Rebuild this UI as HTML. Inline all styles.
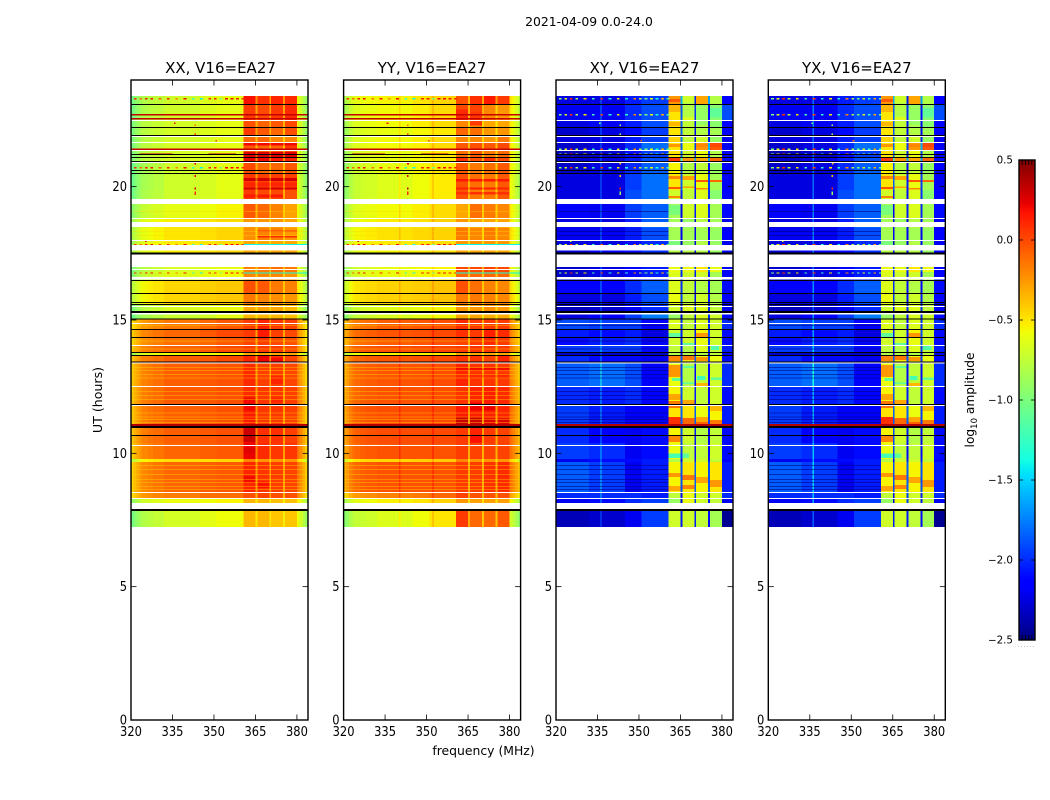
<!DOCTYPE html>
<html lang="en">
<head>
<meta charset="utf-8">
<title>2021-04-09 0.0-24.0</title>
<style>
html,body{margin:0;padding:0;background:#fff;}
svg{display:block;font-family:"DejaVu Sans","Liberation Sans",sans-serif;fill:#000;}
</style>
</head>
<body>
<svg id="chart" width="1050" height="800" viewBox="0 0 1050 800" xmlns="http://www.w3.org/2000/svg">
  <rect x="0" y="0" width="1050" height="800" fill="#fff"/>
  <text x="589" y="26" font-size="12.4" text-anchor="middle">2021-04-09 0.0-24.0</text>
  <g id="plots"></g>
  <text x="220.5" y="73" font-size="15" text-anchor="middle">XX, V16=EA27</text>
  <text x="432" y="73" font-size="15" text-anchor="middle">YY, V16=EA27</text>
  <text x="644.5" y="73" font-size="15" text-anchor="middle">XY, V16=EA27</text>
  <text x="856.8" y="73" font-size="15" text-anchor="middle">YX, V16=EA27</text>
  <text transform="translate(102,400) rotate(-90)" font-size="12.6" text-anchor="middle">UT (hours)</text>
  <text x="483.5" y="755" font-size="12.4" text-anchor="middle">frequency (MHz)</text>
  <text transform="translate(974,400) rotate(-90)" font-size="12.2" text-anchor="middle">log<tspan font-size="8.5" dy="3">10</tspan><tspan dy="-3"> amplitude</tspan></text>
  <text x="1026.5" y="647" font-size="6" fill="#888" text-anchor="middle" letter-spacing="1">......</text>
  <g id="colorbar"></g>
</svg>
<script>
// ---- categories and axis labels ----
const xTickLabels = [320, 335, 350, 365, 380];
const yTickLabels = [0, 5, 10, 15, 20];
const colorbarTickLabels = [-2.5, -2.0, -1.5, -1.0, -0.5, 0.0, 0.5];

// ---- time rows (UT hours, row edges, bottom to top) ----
const utEdges = [7.24,7.88,8.14,8.31,8.55,9.68,9.79,10.39,10.95,11.81,12.49,13.43,13.69,13.78,14.06,14.36,14.66,15.04,15.21,15.6,16.01,16.5,16.8,16.99,17.63,18.0,18.45,18.83,19.35,19.88,20.51,20.96,21.11,21.38,21.68,21.9,22.24,22.5,23.1,23.4];

// ---- frequency channels (MHz) ----
const freqEdges = [320,321,322,323,324,326,328,332,336,336.5,340,340.6,345,351,352,352.6,356,360.7,365,365.7,370,370.7,375,375.7,380,380.5,381,382,383,384];
const freqGroupEdges = [320,332,345,351,360.7,365.7,370.7,375.7,380,384];

// ---- per-channel offsets (log10 amplitude) ----
const xxChannelOffset = [-.3,-.24,-.18,-.12,-.08,-.05,-.02,0,0,0,0,0,0,0,0,0,0,0,-.2,0,-.2,0,-.2,0,0,-.03,-.1,-.2,-.3];
const yyChannelOffset = [-.25,-.2,-.12,-.08,-.04,-.02,0,0,0,0,.12,0,0,0,.1,0,0,0,-.25,0,-.25,0,-.25,0,0,-.02,-.08,-.16,-.26];
const crossChannelOffset = [0,0,0,0,0,0,0,0,.45,0,0,0,0,0,0,0,0,0,-1.35,0,-1.35,0,-1.35,0,0,0,0,0,0];

// ---- row x frequency-group levels: one row per UT row ----
const xxLevels = [
[-.72,-.68,-.62,-.58,-.35,-.35,-.4,-.4,-.58],
[-.6,-.58,-.55,-.5,-.35,-.35,-.38,-.38,-.5],
[-.62,-.6,-.58,-.55,-.35,-.35,-.38,-.38,-.52],
[-.17,-.17,-.12,-.12,-.02,.02,-.02,-.02,-.18],
[-.12,-.09,-.07,-.05,.12,.07,.04,.02,-.12],
[-.48,-.48,-.48,-.46,-.2,-.25,-.25,-.25,-.42],
[-.12,-.09,-.07,-.05,.22,.1,.06,.06,-.12],
[-.09,-.07,-.05,-.02,.2,.08,.08,.03,-.1],
[-.09,-.07,-.05,-.02,.16,.06,.06,.03,-.12],
[-.09,-.05,-.05,-.02,.1,.06,.06,.03,-.12],
[-.1,-.07,-.05,-.03,.1,.03,.04,.01,-.15],
[-.1,-.07,-.05,0,.12,.14,.07,.02,-.15],
[-.58,-.58,-.58,-.55,-.3,-.3,-.3,-.3,-.5],
[-.1,-.08,-.05,0,.05,.05,.05,0,-.18],
[-.15,-.12,-.1,-.05,.02,.04,0,-.03,-.22],
[-.12,-.1,-.05,0,.05,.07,.03,0,-.2],
[-.18,-.15,-.1,-.05,.04,.12,.05,.03,-.22],
[-.76,-.72,-.68,-.62,-.35,-.35,-.35,-.38,-.62],
[-.7,-.67,-.63,-.6,-.3,-.28,-.3,-.35,-.62],
[-.48,-.45,-.43,-.41,-.15,-.18,-.22,-.25,-.47],
[-.48,-.45,-.43,-.41,-.02,-.05,-.15,-.18,-.52],
[-.66,-.63,-.6,-.57,-.2,-.2,-.2,-.25,-.57],
[-.7,-.66,-.63,-.6,-.18,-.15,-.12,-.15,-.57],
[-.55,-.52,-.5,-.47,-.3,-.3,-.3,-.3,-.52],
[-.55,-.52,-.5,-.47,-.3,-.3,-.3,-.3,-.52],
[-.53,-.5,-.48,-.45,-.22,-.18,-.18,-.25,-.52],
[-.55,-.53,-.5,-.47,-.25,-.25,-.25,-.3,-.52],
[-.65,-.62,-.59,-.55,-.05,-.1,-.18,-.28,-.58],
[-.74,-.7,-.67,-.62,.05,0,0,-.02,-.63],
[-.76,-.7,-.67,-.62,.06,.03,.03,.03,-.63],
[-.76,-.7,-.67,-.62,0,-.1,-.1,-.05,-.63],
[-.7,-.68,-.65,-.62,.22,.2,.15,.12,-.6],
[-.7,-.68,-.65,-.62,0,-.05,-.05,.02,-.6],
[-.7,-.68,-.65,-.62,-.05,-.1,-.1,.05,-.6],
[-.7,-.68,-.65,-.62,-.1,-.1,-.2,-.2,-.6],
[-.7,-.68,-.65,-.62,.05,-.05,-.1,-.02,-.6],
[-.7,-.68,-.65,-.62,-.02,-.08,-.05,0,-.6],
[-.73,-.7,-.65,-.62,.05,0,.05,.1,-.6],
[-.73,-.7,-.65,-.62,.18,.08,.12,.1,-.6]
];
const yyLevels = [
[-.7,-.65,-.58,-.5,.05,-.1,-.1,-.05,-.68],
[-.55,-.5,-.45,-.38,-.25,-.28,-.28,-.28,-.55],
[-.58,-.54,-.5,-.44,-.25,-.28,-.28,-.28,-.55],
[-.22,-.18,-.15,-.1,.02,-.03,-.03,-.03,-.28],
[-.05,-.03,-.03,-.03,.05,.04,.08,.1,-.12],
[-.46,-.46,-.44,-.42,-.2,-.25,-.25,-.25,-.44],
[-.05,-.03,-.03,-.03,.04,.02,.02,.02,-.12],
[-.03,-.01,-.01,0,.05,.12,.05,.02,-.1],
[-.03,-.01,-.01,0,.15,.14,.13,.12,-.1],
[-.05,-.03,-.03,-.01,.07,.12,.14,.1,-.12],
[-.06,-.04,-.03,-.01,.12,.07,.07,.05,-.16],
[-.06,-.04,-.02,0,.07,.07,.02,.12,-.16],
[-.55,-.55,-.55,-.52,-.3,-.3,-.3,-.3,-.5],
[-.04,-.02,0,.02,.05,.07,.05,.05,-.14],
[-.1,-.07,-.04,-.02,.02,.05,.1,.05,-.2],
[-.07,-.04,-.02,0,.08,.05,.13,.1,-.18],
[-.12,-.07,-.04,-.02,.1,.05,.05,.05,-.2],
[-.7,-.66,-.62,-.57,-.3,-.3,-.32,-.32,-.57],
[-.66,-.63,-.6,-.55,-.25,-.25,-.22,-.25,-.57],
[-.46,-.44,-.42,-.39,-.15,-.15,-.18,-.2,-.42],
[-.46,-.44,-.42,-.39,-.02,-.12,-.18,-.2,-.47],
[-.62,-.6,-.57,-.55,-.1,-.1,-.1,-.1,-.57],
[-.65,-.6,-.57,-.55,0,0,.02,0,-.57],
[-.58,-.55,-.53,-.5,-.3,-.3,-.3,-.3,-.52],
[-.54,-.52,-.5,-.48,-.25,-.25,-.25,-.25,-.52],
[-.52,-.49,-.46,-.44,-.15,-.2,-.15,-.2,-.47],
[-.56,-.52,-.49,-.44,-.25,-.3,-.3,-.3,-.52],
[-.6,-.57,-.53,-.47,-.3,-.12,-.15,-.2,-.52],
[-.68,-.64,-.58,-.52,-.02,-.15,-.15,-.05,-.58],
[-.68,-.64,-.58,-.52,-.02,-.12,-.15,-.05,-.58],
[-.66,-.61,-.56,-.51,-.05,-.15,-.12,-.05,-.53],
[-.64,-.61,-.56,-.51,.08,-.02,.08,0,-.53],
[-.64,-.61,-.56,-.51,-.12,-.05,-.15,-.1,-.53],
[-.6,-.57,-.53,-.47,-.05,-.02,-.05,0,-.52],
[-.6,-.57,-.53,-.47,-.2,-.2,-.25,-.15,-.52],
[-.64,-.61,-.56,-.51,-.1,-.12,-.25,-.25,-.53],
[-.6,-.57,-.53,-.47,-.2,-.2,-.3,-.3,-.52],
[-.6,-.57,-.53,-.47,0,.02,-.2,-.25,-.5],
[-.57,-.55,-.5,-.45,-.02,.08,.15,.05,-.48]
];
const crossLevels = [
[-2.35,-2.3,-2.2,-1.95,-.7,-.7,-.75,-.85,-2.45],
[-2.2,-2.1,-2,-1.95,-.9,-.6,-.7,-.8,-2.2],
[-2.2,-2.1,-2,-1.95,-.9,-.6,-.7,-.75,-2.2],
[-2,-2,-2,-2.05,-.75,-.6,-.7,-.7,-2],
[-1.85,-1.95,-2.2,-2.05,-.55,-.5,-.55,-.5,-2.05],
[-2.2,-2.1,-2.1,-2.05,-.8,-.7,-.7,-.75,-2.15],
[-1.95,-2,-2.2,-2.1,-.6,-.75,-.75,-.7,-2.1],
[-2,-2.15,-2.2,-2.1,-.55,-.7,-.8,-.75,-2.1],
[-1.95,-2.05,-2.15,-2.15,-.5,-.5,-.6,-.55,-2.05],
[-2,-2.05,-2,-2.15,-.55,-.7,-.75,-.7,-2.1],
[-1.85,-1.8,-1.9,-2.15,-.6,-.8,-.75,-.7,-2],
[-2,-2.1,-2.1,-2.2,-.5,-.5,-.6,-.6,-2.1],
[-2.3,-2.3,-2.3,-2.3,-.8,-.8,-.8,-.75,-2.2],
[-1.95,-1.95,-1.95,-2.1,-.75,-.8,-.65,-.75,-2.05],
[-2.1,-2.05,-2,-2.2,-.7,-.7,-.6,-.7,-2.1],
[-2.05,-2.1,-2.05,-2.25,-.7,-.7,-.55,-.7,-2.1],
[-1.9,-1.95,-1.95,-2.15,-.65,-.75,-.65,-.7,-2],
[-2.25,-2.15,-1.95,-1.75,-.9,-.75,-.65,-.7,-2.1],
[-2.35,-2.3,-2.2,-2,-.7,-.65,-.65,-.75,-2.2],
[-2.25,-2.25,-2.05,-1.9,-.6,-.75,-.7,-.8,-2.15],
[-2.15,-2.15,-2,-1.85,-.65,-.75,-.8,-.85,-2.1],
[-2.3,-2.25,-2.15,-2.05,-.65,-.7,-.7,-.85,-2.15],
[-2.3,-2.25,-2.15,-2.05,-.6,-.6,-.5,-.6,-2.15],
[-2.3,-2.2,-2.1,-2,-.8,-.8,-.8,-.9,-2.2],
[-2.25,-2.25,-2.1,-2,-1,-.9,-.8,-.9,-2.2],
[-2.2,-2.2,-2.05,-1.9,-.85,-.85,-.85,-.9,-2.15],
[-2.25,-2.25,-2.05,-1.85,-.85,-.9,-.8,-.85,-2.2],
[-2.15,-2.2,-1.95,-1.85,-.85,-.7,-.65,-.85,-2.1],
[-2.25,-2.25,-1.9,-1.8,-.7,-.75,-.65,-.95,-2.15],
[-2.25,-2.25,-1.95,-1.8,-.5,-.7,-.6,-.85,-2.2],
[-2.3,-2.25,-2,-1.85,-.55,-.8,-.75,-.9,-2.15],
[-2.3,-2.25,-2.05,-1.9,.05,-.25,-.3,-.1,-2.1],
[-2.35,-2.3,-2.1,-1.95,-.5,-.7,-.6,-.8,-2.15],
[-2.3,-2.25,-2,-1.8,-.5,-.6,-.25,-.05,-2.2],
[-2.25,-2.25,-2.05,-1.95,-.45,-.75,-.7,-.9,-2.2],
[-2.3,-2.25,-2.1,-1.95,-.5,-.75,-.8,-.85,-2.15],
[-2.25,-2.2,-2.05,-1.9,-.5,-.75,-.8,-.95,-2.15],
[-2.2,-2.2,-2,-1.9,-.5,-.65,-.75,-.95,-1.9],
[-2.25,-2.25,-2.05,-1.95,-.25,-.7,-.3,-.8,-2.15]
];

// ---- localized patches: [utLow, utHigh, freqLow, freqHigh, level] ----
const xxPatches = [
[20.21,20.33,360.7,380,.28],[19.9,19.97,360.7,380,.28],[19.6,19.7,360.7,375,.15],[21.55,21.65,360.7,380,.2],
[21.11,21.3,360.7,380,.25],[20.0,20.15,360.7,380,.12],[18.1,18.15,365.7,380,.1],[18.3,18.36,365.7,380,.05],
[10.43,10.95,360.7,365,.3],[11.6,12.1,360.7,365,.2],[8.9,9.15,360.7,365,.2],[10,10.2,360.7,365,.25],
[14.3,14.75,365.7,370,.15],[13.4,13.65,365.7,370,.22],[13.4,13.6,370.7,375,.2],[8.7,8.95,365.7,370,.18],
[11.9,12.1,370.7,375,.12],[12.6,12.9,370.7,375,.12]
];
const yyPatches = [
[11.1,11.35,360.7,365,.3],[11.1,11.35,365.7,370,.3],[11.1,11.3,370.7,375,.25],[11.1,11.3,375.7,380,.25],
[11.6,11.9,365.7,370,.22],[11.6,11.85,370.7,375,.22],[10.4,10.65,365.7,370,.18],[13.1,13.2,360.7,380,.2],
[12.8,13.0,360.7,380,.1],[20.2,20.28,360.7,380,.15],[19.9,19.96,360.7,380,.12],[19.7,19.8,360.7,380,.08],
[22.5,22.9,360.7,365,.1],[22.3,22.8,365.7,370,.05]
];
const crossPatches = [
[23.17,23.29,360.7,365,-.05],[22.8,23.06,360.7,365,-.35],[22.28,22.43,360.7,365,-.35],[21.49,21.6,360.7,365,-.25],
[20.29,20.4,360.7,365,-.2],[19.91,19.99,360.7,365,-.05],[19.58,19.65,360.7,365,-.2],[18.94,19.31,360.7,365,-1.0],
[13.46,13.65,360.7,365,-.2],[12.86,13.31,360.7,365,-.25],[12,12.225,360.7,365,-.3],[11.7,11.96,360.7,365,-.15],
[11.1,11.36,360.7,365,.08],[10.43,10.69,360.7,365,-.2],[9.11,9.26,360.7,365,-.25],[8.59,8.78,360.7,365,-.3],
[14.36,14.51,360.7,365,-1.1],[12.71,12.82,362,365,-1.1],[9.83,9.99,360.7,365,-1.2],
[20.25,20.4,365.7,370,-.3],[19.95,20,365.7,370,-.3],[13.5,13.69,365.7,370,-.15],[11.85,12,365.7,370,-.3],
[11.1,11.32,365.7,370,-.1],[9,9.19,365.7,370,-.15],[8.66,8.81,365.7,370,-.2],[22.61,23.14,365.7,370,-.8],
[14.06,14.14,365.7,370,-1.1],[13.2,13.27,366,370,-1.1],[12.6,12.65,365.7,370,-1.1],[9.83,9.99,365.7,368,-1.1],
[23.14,23.36,370.7,375,-.3],[21.49,21.6,370.7,375,-.2],[20.18,20.25,370.7,375,-.05],[19.9,19.95,370.7,375,-.2],
[14.36,14.51,370.7,375,-.25],[13.46,13.61,370.7,375,-.25],[12.53,12.64,370.7,375,-.35],[11.18,11.36,370.7,375,-.3],
[11.1,11.18,370.7,375,-.08],[8.89,9.11,370.7,375,-.3],[12.75,12.9,371,374,-1.2],[22.31,23.06,370.7,375,-.9],
[21.49,21.64,375.7,380,0],[20.18,20.25,375.7,380,-.1],[11.59,11.81,375.7,380,-.35],[11.1,11.25,375.7,380,-.15],
[8.74,9,375.7,380,-.25],[13.87,14.03,376,379,-1.15],[12.75,12.85,376,380,-1.1],[22.6,22.95,375.7,380,-1.1]
];

// ---- flagged time spans [low UT, high UT] ----
const whiteFlagStart = [22.46,21.86,21.64,21.34,20.89,19.35,18.79,18.64,18.49,17.96,17.61,16.99,16.88,16.52,15.49,15.2,14.85,14.03,13.37,12.49,11.78,10.28,8.51,8.29,7.9];
const whiteFlagEnd = [22.5,21.9,21.68,21.38,20.93,19.54,18.83,18.68,18.64,18.0,17.81,17.45,16.91,16.61,15.53,15.27,14.89,14.06,13.41,12.53,11.81,10.31,8.55,8.32,8.14];
const blackFlagStart = [23.06,22.2,21.9,21.19,21.075,20.93,20.59,20.48,17.45,16.46,15.98,15.64,15.56,15.26,15.02,14.62,14.33,13.76,13.65,13.41,11.81,10.95,10.65,7.84];
const blackFlagEnd = [23.1,22.24,21.94,21.23,21.11,20.96,20.62,20.51,17.53,16.5,16.01,15.68,15.6,15.34,15.06,14.66,14.36,13.8,13.69,13.44,11.85,11.03,10.69,7.91];
const hotRowStart = [11.03];
const hotRowEnd = [11.1];

// ---- RFI rows ----
const rfiRowsUT = [23.33,20.73,17.85,16.79];
const coStrongRowsUT = [22.72,22.57,21.43];
const crossStrongRowsUT = [22.72,21.43,21.24];
const coStrongSegmentUT = [21.24,21.24];
const coStrongSegmentFreqLow = [323,348];
const coStrongSegmentFreqHigh = [335,358];
const coldTailRowsUT = [17.85,16.79];
const rfiFreqs = [321,323,325,327,330,333,336,339,342,345,348,350,352,354,356,358,360];
const coRfiLevels = [.1,-.1,.15,.2,-.1,.15,-.2,.2,-1.2,-1.4,.1,.15,-1,.2,.2,.15,.1];
const crossRfiLevels = [-1,-.6,.1,-.8,-.5,-1.2,0,-1.3,-.5,-1.3,-.2,-.8,-1,-.6,-1.3,-.3,-1.1];

// ---- isolated bright pixels ----
const spotUT = [22.41,22.33,21.99,21.75,20.43,19.96,19.81,19.75,20.9,17.99];
const spotFreq = [335.6,342.9,342.9,350.5,342.9,342.9,342.9,342.9,343,325];
const coSpotLevels = [.2,-.1,.1,0,.25,.3,.1,.1,.25,.25];
const crossSpotLevels = [-1,-.9,-.9,-.1,-.4,.1,-.9,-.9,-.4,-.7];

// ---- fine row stripes and band-gap channels ----
const rowStripeUT = [14.78,14.21,13.91,13.2,13.09,12.94,12.82,12.3,12.15,12.0,11.51,11.36,11.25,11.14,9.53,9.38,9.19,9.0,8.89,8.74,8.63,18.3,18.15,19.05];
const bandGapFreqs = [365,370,375];

const svgNS = 'http://www.w3.org/2000/svg';
const panelLefts = [131, 343.6, 556, 768.3];
const panelWidth = 177;
const plotTop = 80;
const plotBottom = 720;
const maxUT = 24;
const minFreq = 320;
const maxFreq = 384;
const colorMin = -2.5;
const colorMax = 0.5;
const digitWidth = 7.3;

function yScale(ut) { return plotBottom - ut * (plotBottom - plotTop) / maxUT; }
function xScale(left, f) { return left + (f - minFreq) * panelWidth / (maxFreq - minFreq); }

const jetR = [[0,0],[.35,0],[.66,1],[.89,1],[1,.5]];
const jetG = [[0,0],[.125,0],[.375,1],[.64,1],[.91,0],[1,0]];
const jetB = [[0,.5],[.11,1],[.34,1],[.65,0],[1,0]];
function channel(stops, t) {
  for (let i = 1; i < stops.length; i++) {
    if (t <= stops[i][0]) {
      const a = stops[i - 1], b = stops[i];
      return a[1] + (b[1] - a[1]) * (t - a[0]) / (b[0] - a[0]);
    }
  }
  return stops[stops.length - 1][1];
}
function jet(level) {
  const t = Math.max(0, Math.min(1, (level - colorMin) / (colorMax - colorMin)));
  return 'rgb(' + Math.round(255 * channel(jetR, t)) + ',' + Math.round(255 * channel(jetG, t)) + ',' + Math.round(255 * channel(jetB, t)) + ')';
}
function makeRect(parent, x, y, w, h, fill) {
  const r = document.createElementNS(svgNS, 'rect');
  r.setAttribute('x', x);
  r.setAttribute('y', y);
  r.setAttribute('width', w);
  r.setAttribute('height', h);
  r.setAttribute('fill', fill);
  r.setAttribute('shape-rendering', 'crispEdges');
  parent.appendChild(r);
  return r;
}
function makeLine(parent, x1, y1, x2, y2, width) {
  const l = document.createElementNS(svgNS, 'line');
  l.setAttribute('x1', x1);
  l.setAttribute('y1', y1);
  l.setAttribute('x2', x2);
  l.setAttribute('y2', y2);
  l.setAttribute('stroke', '#000');
  l.setAttribute('stroke-width', width);
  parent.appendChild(l);
  return l;
}
function makeText(parent, x, y, str, anchor) {
  const t = document.createElementNS(svgNS, 'text');
  t.setAttribute('x', x);
  t.setAttribute('y', y);
  t.setAttribute('font-size', '13');
  t.setAttribute('text-anchor', anchor);
  t.setAttribute('textLength', String(str.length * digitWidth));
  t.setAttribute('lengthAdjust', 'spacingAndGlyphs');
  t.textContent = str;
  parent.appendChild(t);
  return t;
}
function groupOf(mid) {
  for (let g = 0; g < freqGroupEdges.length - 1; g++) {
    if (mid < freqGroupEdges[g + 1]) return g;
  }
  return freqGroupEdges.length - 2;
}

function drawPanel(name, left, levels, offsets, patches, isCross) {
  const g = document.createElementNS(svgNS, 'g');
  
  
  document.getElementById('plots').appendChild(g);

  const xEnd = left + panelWidth;

  // heatmap cells
  for (let r = 0; r < levels.length; r++) {
    const yTop = yScale(utEdges[r + 1]);
    const yBot = yScale(utEdges[r]);
    for (let c = 0; c < freqEdges.length - 1; c++) {
      const xa = xScale(left, freqEdges[c]);
      const xb = xScale(left, freqEdges[c + 1]);
      const grp = groupOf((freqEdges[c] + freqEdges[c + 1]) / 2);
      const cell = makeRect(g, xa, yTop, xb - xa, yBot - yTop, jet(levels[r][grp] + offsets[c]));
      
      
    }
  }

  // localized patches
  patches.forEach(function (p) {
    const xa = xScale(left, p[2]);
    const xb = xScale(left, p[3]);
    const patch = makeRect(g, xa, yScale(p[1]), xb - xa, yScale(p[0]) - yScale(p[1]), jet(p[4]));
    
    
  });

  // lighter band-gap channels over co-pol patches
  if (!isCross) {
    bandGapFreqs.forEach(function (f) {
      const gap = makeRect(g, xScale(left, f), yScale(23.4), xScale(left, f + .7) - xScale(left, f), yScale(7.24) - yScale(23.4), 'rgba(255,215,0,.45)');
      
      
    });
  }

  // fine row stripes
  rowStripeUT.forEach(function (ut) {
    const xRight = isCross ? xScale(left, 360.7) : xEnd;
    const stripe = makeRect(g, left, yScale(ut + .03), xRight - left, 1, isCross ? 'rgba(0,0,120,.55)' : 'rgba(255,215,0,.38)');
    
    
  });

  // RFI rows
  rfiRowsUT.forEach(function (ut) {
    rfiFreqs.forEach(function (f, i) {
      const lvl = isCross ? crossRfiLevels[i] : coRfiLevels[i];
      const dot = makeRect(g, xScale(left, f), yScale(ut), xScale(left, f + 1) - xScale(left, f), 1.4, jet(lvl));
      
      
    });
  });
  if (isCross) {
    crossStrongRowsUT.forEach(function (ut) {
      rfiFreqs.forEach(function (f, i) {
        const dot = makeRect(g, xScale(left, f), yScale(ut), xScale(left, f + 1) - xScale(left, f), 1.4, jet(crossRfiLevels[i]));
        
        
      });
    });
  } else {
    coStrongRowsUT.forEach(function (ut) {
      const hot = makeRect(g, left, yScale(ut), panelWidth, 1.4, jet(.32));
      
      
    });
    coStrongSegmentUT.forEach(function (ut, i) {
      const xa = xScale(left, coStrongSegmentFreqLow[i]);
      const seg = makeRect(g, xa, yScale(ut), xScale(left, coStrongSegmentFreqHigh[i]) - xa, 1.4, jet(.32));
      
      
    });
    coldTailRowsUT.forEach(function (ut) {
      const tail = makeRect(g, xScale(left, 360.7), yScale(ut), xEnd - xScale(left, 360.7), 1.4, jet(-1.4));
      
      
    });
  }
  spotUT.forEach(function (ut, i) {
    const spot = makeRect(g, xScale(left, spotFreq[i]), yScale(ut), 1.6, 1.6, jet(isCross ? crossSpotLevels[i] : coSpotLevels[i]));
    
    
  });

  // flags
  whiteFlagStart.forEach(function (u, i) {
    const flag = makeRect(g, left, yScale(whiteFlagEnd[i]), panelWidth, yScale(u) - yScale(whiteFlagEnd[i]), '#fff');
    
    
  });
  hotRowStart.forEach(function (u, i) {
    const hotRow = makeRect(g, left, yScale(hotRowEnd[i]), panelWidth, yScale(u) - yScale(hotRowEnd[i]), jet(.36));
    
    
  });
  blackFlagStart.forEach(function (u, i) {
    const flag = makeRect(g, left, yScale(blackFlagEnd[i]), panelWidth, yScale(u) - yScale(blackFlagEnd[i]), '#000');
    
    
  });

  // ticks and labels
  xTickLabels.forEach(function (f) {
    const x = xScale(left, f);
    const b = makeLine(g, x, plotBottom, x, plotBottom - 5.5, 0.8);
    
    
    const t = makeLine(g, x, plotTop, x, plotTop + 5.5, 0.8);
    
    
    const lab = makeText(g, x, 736, String(f), 'middle');
    
    
  });
  yTickLabels.forEach(function (u) {
    const y = yScale(u);
    const a = makeLine(g, left, y, left + 5.5, y, 0.8);
    
    
    const b = makeLine(g, xEnd, y, xEnd - 5.5, y, 0.8);
    
    
    const lab = makeText(g, left - 4, y + 4.5, String(u), 'end');
    
    
  });

  // frame
  const frame = document.createElementNS(svgNS, 'rect');
  frame.setAttribute('x', left);
  frame.setAttribute('y', plotTop);
  frame.setAttribute('width', panelWidth);
  frame.setAttribute('height', plotBottom - plotTop);
  frame.setAttribute('fill', 'none');
  frame.setAttribute('stroke', '#000');
  frame.setAttribute('stroke-width', '1.4');
  
  
  g.appendChild(frame);
}

drawPanel('xx', panelLefts[0], xxLevels, xxChannelOffset, xxPatches, false);
drawPanel('yy', panelLefts[1], yyLevels, yyChannelOffset, yyPatches, false);
drawPanel('xy', panelLefts[2], crossLevels, crossChannelOffset, crossPatches, true);
drawPanel('yx', panelLefts[3], crossLevels, crossChannelOffset, crossPatches, true);

// colorbar
(function () {
  const g = document.getElementById('colorbar');
  const cbLeft = 1019, cbWidth = 16, cbTop = 160, cbBottom = 640;
  function cbY(v) { return cbBottom - (v - colorMin) * (cbBottom - cbTop) / (colorMax - colorMin); }
  for (let i = 0; i < 240; i++) {
    const v0 = colorMin + (colorMax - colorMin) * i / 240;
    const v1 = colorMin + (colorMax - colorMin) * (i + 1) / 240;
    const seg = makeRect(g, cbLeft, cbY(v1), cbWidth, cbY(v0) - cbY(v1), jet((v0 + v1) / 2));
    
    
  }
  colorbarTickLabels.forEach(function (v) {
    const y = cbY(v);
    const a = makeLine(g, cbLeft, y, cbLeft + 4, y, 0.8);
    
    
    const b = makeLine(g, cbLeft + cbWidth, y, cbLeft + cbWidth - 4, y, 0.8);
    
    
    const txt = v.toFixed(1).replace('-', '\u2212');
    const lab = document.createElementNS(svgNS, 'text');
    lab.setAttribute('x', 1013);
    lab.setAttribute('y', y + 3.5);
    lab.setAttribute('font-size', '10.3');
    lab.setAttribute('text-anchor', 'end');
    lab.textContent = txt;
    g.appendChild(lab);
    
    
  });
  for (let k = 1; k < 5; k++) {
    const x = cbLeft + k * cbWidth / 5;
    const t1 = makeLine(g, x, cbTop, x, cbTop + 5, 0.8);
    
    
    const t2 = makeLine(g, x, cbBottom, x, cbBottom - 5, 0.8);
    
    
  }
  const outline = document.createElementNS(svgNS, 'rect');
  outline.setAttribute('x', cbLeft);
  outline.setAttribute('y', cbTop);
  outline.setAttribute('width', cbWidth);
  outline.setAttribute('height', cbBottom - cbTop);
  outline.setAttribute('fill', 'none');
  outline.setAttribute('stroke', '#000');
  outline.setAttribute('stroke-width', '1.4');
  
  
  g.appendChild(outline);
})();
</script>
</body>
</html>
